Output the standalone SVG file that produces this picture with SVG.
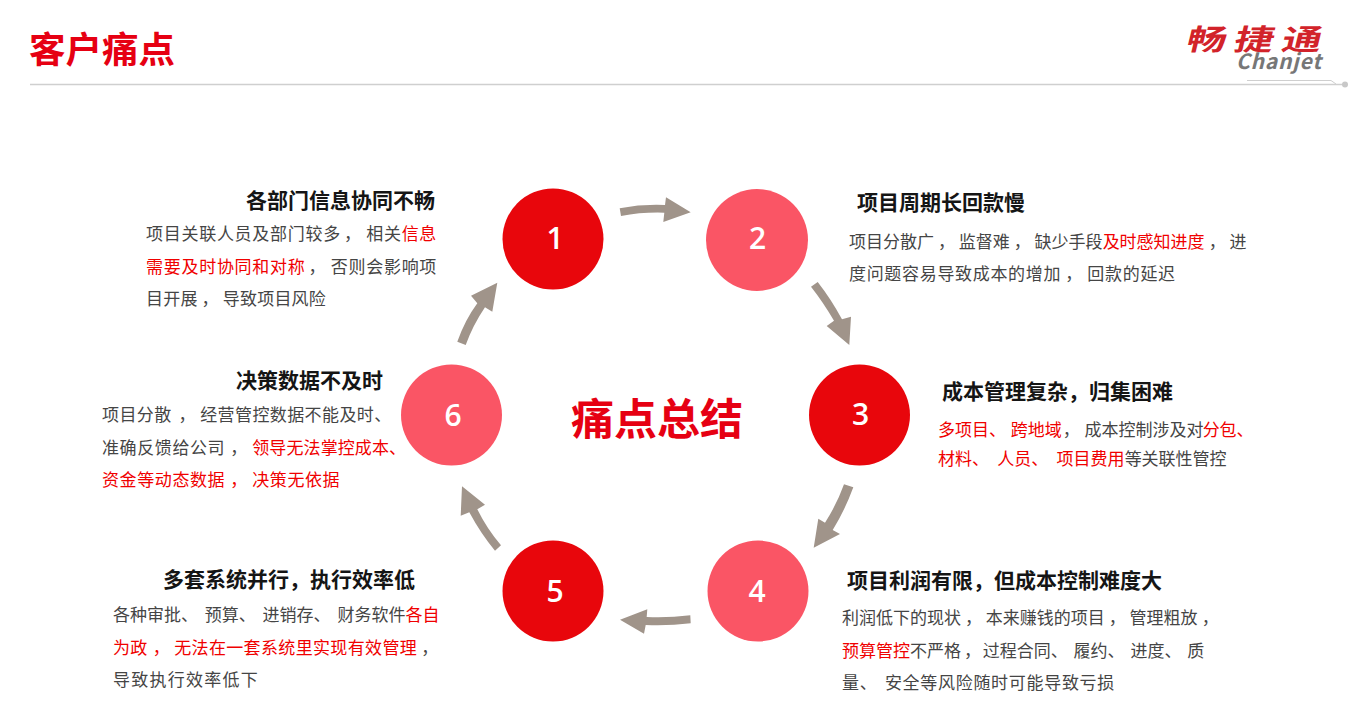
<svg xmlns="http://www.w3.org/2000/svg" width="1371" height="728" viewBox="0 0 1371 728">
<style>
text{font-family:"Noto Sans CJK SC","Noto Sans",sans-serif}
.h{font-size:21px;font-weight:700;fill:#151515}
.b{font-size:17px;fill:#454545}
.r{fill:#f00000}
.n{font-family:"Open Sans","Noto Sans",sans-serif;font-size:30px;font-weight:600;fill:#fff;text-anchor:middle}
.a{fill:#a0948a}
.c1{fill:#e8060c}
.c2{fill:#fa5565}
</style>
<rect width="1371" height="728" fill="#fff"/>
<g id="header">
<text x="29" y="62.500" font-size="36.500" font-weight="700" fill="#e60012">客户痛点</text>
<line x1="30" y1="84.500" x2="1345" y2="84.500" stroke="#cfcfcf" stroke-width="1.500"/>
<path d="M1247 80.500H1331L1336 84" fill="none" stroke="#cfcfcf"/>
<circle cx="1345" cy="84.500" r="3" fill="#c8c8c8"/>
</g>
<g id="logo">
<text transform="translate(1185 49.500) scale(1.360 1) skewX(-10)" font-size="29" font-weight="700" fill="#d2232a" letter-spacing="6">畅捷通</text>
<text x="1236" y="69" font-family="Liberation Sans" font-size="21" font-weight="700" font-style="italic" fill="#777" letter-spacing=".8">Chanjet</text>
</g>
<g id="connectors">
<path class="a" d="M619.700 208.300Q642 204 665 205L666 197.300L690.700 212.300L663.300 222L664.300 212.700Q642 212 621 216Z"/>
<path class="a" d="M817.700 282Q831 299 842 319.300L851 316.700L849.300 345L826.700 326L834 320.700Q823 302 811 286.700Z"/>
<path class="a" d="M853.300 487.300Q845 510 832.700 530L840 534L813.700 547.700L818.300 518.700L825 522.700Q837 504 844 484.300Z"/>
<path class="a" d="M690.300 615.300Q668 618 646.700 617L647.300 609.300L620 619.700L644 633.700L645.700 625Q668 626 690.700 623.300Z"/>
<path class="a" d="M501 545.300Q487 529 477.300 509.300L485 504.700L462 486.300L460.700 515.700L469.300 512.300Q481 534 495 550.700Z"/>
<path class="a" d="M457.300 341.700Q465 320 477.300 303.300L471 295.700L497.300 282.700L492.300 311.700L485 307.300Q473 325 465.700 345Z"/>
</g>
<g id="node1"><circle class="c1" cx="553" cy="239" r="50.500"/><text class="n" x="555" y="249">1</text></g>
<g id="node2"><circle class="c2" cx="757" cy="240" r="51"/><text class="n" x="757.500" y="249">2</text></g>
<g id="node3"><circle class="c1" cx="859.500" cy="415" r="50.500"/><text class="n" x="860.500" y="425">3</text></g>
<g id="node4"><circle class="c2" cx="758" cy="591" r="50.500"/><text class="n" x="757" y="602">4</text></g>
<g id="node5"><circle class="c1" cx="553" cy="591" r="50.500"/><text class="n" x="555" y="602">5</text></g>
<g id="node6"><circle class="c2" cx="451.500" cy="415" r="50.500"/><text class="n" x="453" y="426">6</text></g>
<g id="center"><text x="571" y="435" font-size="43" font-weight="700" fill="#e60012">痛点总结</text></g>
<g id="text1">
<text class="h" x="246" y="208">各部门信息协同不畅</text>
<text class="b" x="146" y="240" letter-spacing=".72">项目关联人员及部门较多<tspan dx="3">，</tspan> 相关<tspan class="r">信息</tspan></text>
<text class="b" x="146" y="273" letter-spacing=".72"><tspan class="r">需要及时协同和对称</tspan><tspan dx="3">，</tspan> 否则会影响项</text>
<text class="b" x="146" y="305" letter-spacing=".2">目开展<tspan dx="4">，</tspan> 导致项目风险</text>
</g>
<g id="text2">
<text class="h" x="857" y="210">项目周期长回款慢</text>
<text class="b" x="849" y="248">项目分散广<tspan dx="4">，</tspan> 监督难<tspan dx="4">，</tspan> 缺少手段<tspan class="r">及时感知进度</tspan><tspan dx="4">，</tspan> 进</text>
<text class="b" x="849" y="280" letter-spacing=".68">度问题容易导致成本的增加<tspan dx="4">，</tspan> 回款的延迟</text>
</g>
<g id="text3">
<text class="h" x="942" y="399">成本管理复杂，归集困难</text>
<text class="b" x="938" y="436" word-spacing="1"><tspan class="r">多项目、 跨地域</tspan><tspan dx="1">，</tspan> 成本控制涉及对<tspan class="r" dx="-1">分包、</tspan></text>
<text class="b" x="938" y="465" word-spacing="4.500"><tspan class="r">材料、 人员、 项目费用</tspan>等关联性管控</text>
</g>
<g id="text4">
<text class="h" x="847" y="588">项目利润有限，但成本控制难度大</text>
<text class="b" x="842" y="624">利润低下的现状<tspan dx="4">，</tspan> 本来赚钱的项目<tspan dx="4">，</tspan> 管理粗放<tspan dx="4">，</tspan></text>
<text class="b" x="842" y="657" word-spacing="2"><tspan class="r">预算管控</tspan>不严格<tspan dx="3">，</tspan> <tspan dx="-4">过程合同、 履约、 进度、 质</tspan></text>
<text class="b" x="842" y="689" letter-spacing=".7" word-spacing="3">量、 安全等风险随时可能导致亏损</text>
</g>
<g id="text5">
<text class="h" x="163" y="587">多套系统并行，执行效率低</text>
<text class="b" x="113" y="621" word-spacing="3">各种审批、 预算、 进销存、 财务软件<tspan class="r">各自</tspan></text>
<text class="b" x="113" y="654" letter-spacing=".35"><tspan class="r">为政<tspan dx="5">，</tspan> 无法在一套系统里实现有效管理</tspan><tspan dx="4">，</tspan></text>
<text class="b" x="113" y="686" letter-spacing="1.250">导致执行效率低下</text>
</g>
<g id="text6">
<text class="h" x="236" y="388">决策数据不及时</text>
<text class="b" x="102" y="421" letter-spacing=".4">项目分散<tspan dx="7">，</tspan> 经营管控数据不能及时、</text>
<text class="b" x="102" y="454" letter-spacing=".6">准确反馈给公司<tspan dx="5">，</tspan> <tspan class="r" letter-spacing=".1">领导无法掌控成本、</tspan></text>
<text class="b r" x="102" y="486" letter-spacing=".6">资金等动态数据<tspan dx="5">，</tspan> 决策无依据</text>
</g>
</svg>
